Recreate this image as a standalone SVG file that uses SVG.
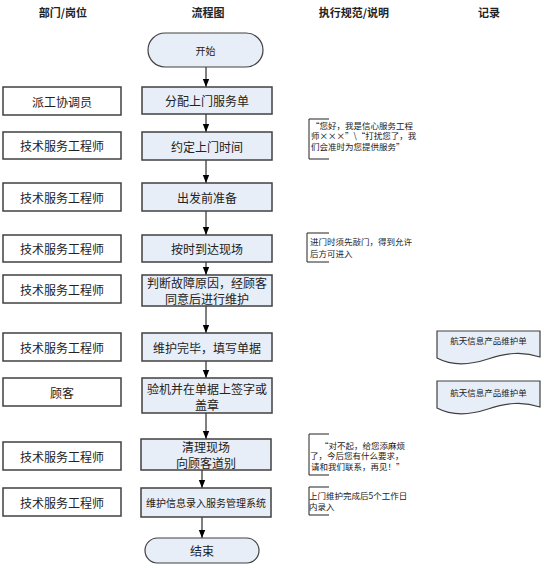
<svg xmlns="http://www.w3.org/2000/svg" width="544" height="568" viewBox="0 0 544 568">
<style>
text{font-family:"Noto Sans CJK SC","Liberation Sans",sans-serif;fill:#222;}
.hd{font-size:11px;font-weight:bold;text-anchor:middle;dominant-baseline:central;}
.lb{font-size:12px;text-anchor:middle;dominant-baseline:central;}
.sm{font-size:10px;text-anchor:middle;dominant-baseline:central;}
.nt{font-size:8.5px;dominant-baseline:central;}
.role{fill:#fff;stroke:#404040;stroke-width:1.5;}
.step{fill:#E8EEF7;stroke:#404040;stroke-width:1.5;}
.term{fill:#E8EEF7;stroke:#404040;stroke-width:1.2;}
.doc{fill:#E8EEF7;stroke:#404040;stroke-width:1.2;}
.br{fill:none;stroke:#222;stroke-width:1;}
.cn{stroke:#000;stroke-width:1;fill:none;marker-end:url(#ah);}
</style>
<defs>
<marker id="ah" markerUnits="userSpaceOnUse" markerWidth="8" markerHeight="8" viewBox="0 0 8 8" refX="8" refY="4" orient="auto">
<path d="M0,0.8 L8,4 L0,7.2 Z" fill="#000"/>
</marker>
</defs>
<rect width="544" height="568" fill="#fff"/>
<g id="headers">
<text class="hd" x="63" y="12">部门/岗位</text>
<text class="hd" x="208" y="12">流程图</text>
<text class="hd" x="354" y="12">执行规范/说明</text>
<text class="hd" x="489" y="12">记录</text>
</g>
<g id="connectors">
<line class="cn" x1="206" y1="67" x2="206" y2="87"/>
<line class="cn" x1="206" y1="114" x2="206" y2="132"/>
<line class="cn" x1="206" y1="160" x2="206" y2="183"/>
<line class="cn" x1="206" y1="211" x2="206" y2="235"/>
<line class="cn" x1="206" y1="262" x2="206" y2="275"/>
<line class="cn" x1="206" y1="306" x2="206" y2="333"/>
<line class="cn" x1="206" y1="361" x2="206" y2="378"/>
<line class="cn" x1="206" y1="413" x2="206" y2="439"/>
<line class="cn" x1="202" y1="470" x2="202" y2="488"/>
<line class="cn" x1="202" y1="517" x2="202" y2="538"/>
</g>
<g id="start">
<rect class="term" x="148" y="33" width="115" height="34" rx="17"/>
<text class="sm" x="205.5" y="50">开始</text>
</g>
<g id="role1"><rect class="role" x="3" y="87" width="118" height="28"/><text class="lb" x="62" y="101">派工协调员</text></g>
<g id="step1"><rect class="step" x="142" y="87" width="130" height="27"/><text class="lb" x="207" y="100.5">分配上门服务单</text></g>
<g id="role2"><rect class="role" x="3" y="132" width="118" height="27"/><text class="lb" x="62" y="145.5">技术服务工程师</text></g>
<g id="step2"><rect class="step" x="142" y="132" width="130" height="28"/><text class="lb" x="207" y="146">约定上门时间</text></g>
<g id="role3"><rect class="role" x="3" y="183" width="118" height="28"/><text class="lb" x="62" y="197">技术服务工程师</text></g>
<g id="step3"><rect class="step" x="142" y="183" width="130" height="28"/><text class="lb" x="207" y="197">出发前准备</text></g>
<g id="role4"><rect class="role" x="3" y="235" width="118" height="27"/><text class="lb" x="62" y="248.5">技术服务工程师</text></g>
<g id="step4"><rect class="step" x="142" y="235" width="130" height="27"/><text class="lb" x="207" y="248.5">按时到达现场</text></g>
<g id="role5"><rect class="role" x="3" y="275" width="118" height="28"/><text class="lb" x="62" y="289">技术服务工程师</text></g>
<g id="step5"><rect class="step" x="142" y="275" width="130" height="31"/><text class="lb" x="207" y="282.5">判断故障原因，经顾客</text><text class="lb" x="207" y="298.5">同意后进行维护</text></g>
<g id="role6"><rect class="role" x="3" y="333" width="118" height="28"/><text class="lb" x="62" y="347">技术服务工程师</text></g>
<g id="step6"><rect class="step" x="142" y="333" width="130" height="28"/><text class="lb" x="207" y="347">维护完毕，填写单据</text></g>
<g id="role7"><rect class="role" x="3" y="378" width="118" height="28"/><text class="lb" x="62" y="392">顾客</text></g>
<g id="step7"><rect class="step" x="142" y="378" width="130" height="35"/><text class="lb" x="207" y="388">验机并在单据上签字或</text><text class="lb" x="207" y="404">盖章</text></g>
<g id="role8"><rect class="role" x="3" y="442" width="118" height="28"/><text class="lb" x="62" y="456">技术服务工程师</text></g>
<g id="step8"><rect class="step" x="141" y="439" width="130" height="31"/><text class="lb" x="206" y="446">清理现场</text><text class="lb" x="206" y="462">向顾客道别</text></g>
<g id="role9"><rect class="role" x="3" y="488" width="118" height="28"/><text class="lb" x="62" y="502">技术服务工程师</text></g>
<g id="step9"><rect class="step" x="141" y="488" width="130" height="29"/><text class="sm" x="206" y="502.5">维护信息录入服务管理系统</text></g>
<g id="end">
<rect class="term" x="145" y="538" width="114" height="25" rx="12.5"/>
<text class="lb" x="202" y="550.5">结束</text>
</g>
<g id="note1">
<path class="br" d="M329,119 H309 V159 H329"/>
<text class="nt" x="311" y="124.5">“您好，我是信心服务工程</text>
<text class="nt" x="311" y="135">师×××”\“打扰您了，我</text>
<text class="nt" x="311" y="145.5">们会准时为您提供服务”</text>
</g>
<g id="note2">
<path class="br" d="M329,233 H307 V262 H329"/>
<text class="nt" x="310" y="240.7">进门时须先敲门，得到允许</text>
<text class="nt" x="310" y="253.3">后方可进入</text>
</g>
<g id="note3">
<path class="br" d="M329,434 H309 V475 H329"/>
<text class="nt" x="320" y="444.5">“对不起，给您添麻烦</text>
<text class="nt" x="310" y="455">了，今后您有什么要求，</text>
<text class="nt" x="311" y="465.5">请和我们联系，再见！”</text>
</g>
<g id="note4">
<path class="br" d="M329,487 H309 V515 H329"/>
<text class="nt" x="309" y="495">上门维护完成后5个工作日</text>
<text class="nt" x="309" y="505.5">内录入</text>
</g>
<g id="record1">
<path class="doc" d="M437,331 H540 V357 C522,351 507,353 488,359 C470,365 452,366 437,358 Z"/>
<text class="nt" x="488.5" y="340" text-anchor="middle">航天信息产品维护单</text>
</g>
<g id="record2">
<path class="doc" d="M437,381 H540 V407 C522,401 507,403 488,409 C470,415 452,416 437,408 Z"/>
<text class="nt" x="488.5" y="392.3" text-anchor="middle">航天信息产品维护单</text>
</g>
</svg>
